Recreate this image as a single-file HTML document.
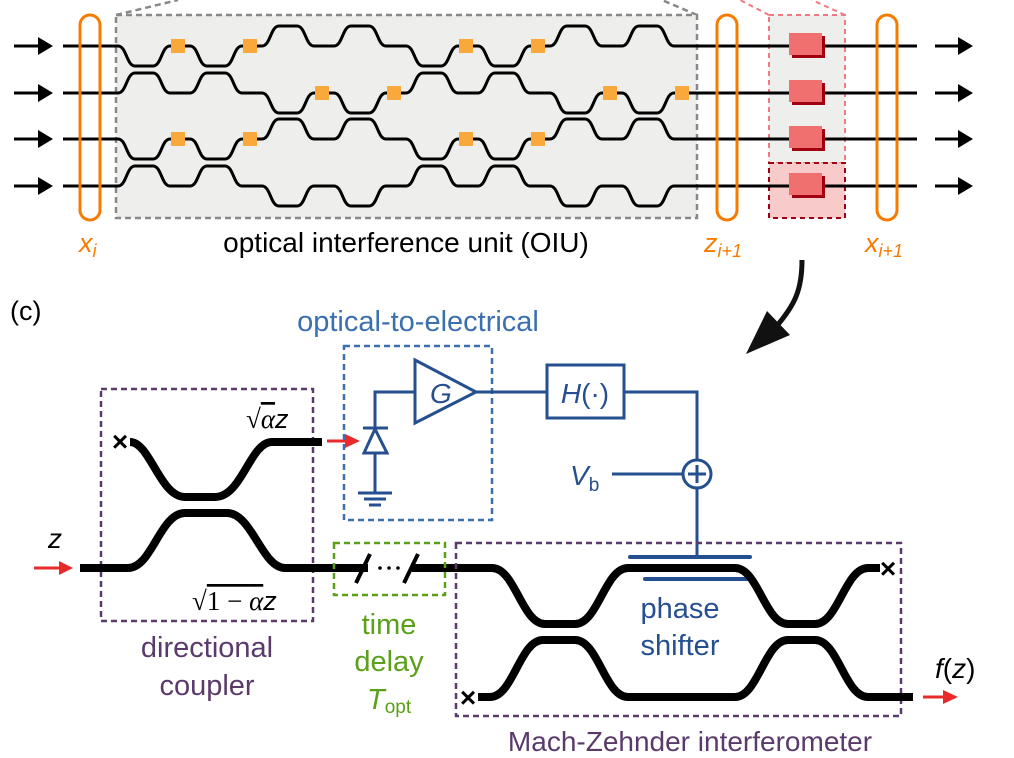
<!DOCTYPE html>
<html><head><meta charset="utf-8">
<style>
html,body{margin:0;padding:0;background:#fff;}
svg{display:block;font-family:"Liberation Sans",Arial,sans-serif;}
</style></head>
<body>
<svg id="s" width="1014" height="758" viewBox="0 0 1014 758" xmlns="http://www.w3.org/2000/svg">
<!-- OIU box -->
<line x1="116" y1="15" x2="178" y2="0" stroke="#888" stroke-width="2.5" stroke-dasharray="6,4"/>
<line x1="697" y1="15" x2="662" y2="0" stroke="#888" stroke-width="2.5" stroke-dasharray="6,4"/>
<rect x="116" y="15" width="581" height="203" fill="#eeeeec" stroke="#888" stroke-width="2.5" stroke-dasharray="6,4"/>
<!-- pink box -->
<line x1="769" y1="15" x2="740" y2="0" stroke="#f07a80" stroke-width="2" stroke-dasharray="5,4"/>
<line x1="845" y1="15" x2="812" y2="0" stroke="#f07a80" stroke-width="2" stroke-dasharray="5,4"/>
<rect x="769" y="15" width="76" height="148" fill="#eeeeec" stroke="#f07a80" stroke-width="2" stroke-dasharray="5,4"/>
<rect x="769" y="163" width="76" height="55" fill="#f9caca" stroke="#a00010" stroke-width="2" stroke-dasharray="5,4"/>
<g id="wg"></g>
<!-- orange rings -->
<rect x="80" y="15" width="20" height="205" rx="10" fill="none" stroke="#f57c00" stroke-width="3"/>
<rect x="717" y="15" width="20" height="205" rx="10" fill="none" stroke="#f57c00" stroke-width="3"/>
<rect x="877" y="15" width="20" height="205" rx="10" fill="none" stroke="#f57c00" stroke-width="3"/>
<text x="79" y="252" font-size="27" fill="#f57c00" font-style="italic">x<tspan font-size="18" dy="5">i</tspan></text>
<text x="406" y="252" font-size="28" fill="#000" text-anchor="middle">optical interference unit (OIU)</text>
<text x="704" y="252" font-size="27" fill="#f57c00" font-style="italic">z<tspan font-size="18" dy="5">i+1</tspan></text>
<text x="865" y="252" font-size="27" fill="#f57c00" font-style="italic">x<tspan font-size="18" dy="5">i+1</tspan></text>
<!-- curved arrow -->
<path d="M802,260 C802,290 795,305 775,328" fill="none" stroke="#111" stroke-width="5"/>
<path d="M746,354 L767,311 L790,335 z" fill="#111"/>
<text x="10" y="320" font-size="27" fill="#000">(c)</text>
<!-- directional coupler -->
<rect x="101" y="389" width="212" height="232" fill="none" stroke="#5a3a6a" stroke-width="2.5" stroke-dasharray="6,4"/>
<path d="M130,442 C150,442 160,497 185,497 L215,497 C242,497 250,442 272,442 L322,442" fill="none" stroke="#000" stroke-width="8"/>
<path d="M80,568 L128,568 C152,568 160,513 185,513 L227,513 C252,513 262,568 285,568 L482,568" fill="none" stroke="#000" stroke-width="8"/>
<text x="120" y="451" font-size="28" font-weight="bold" text-anchor="middle">×</text>
<line x1="34" y1="568" x2="62" y2="568" stroke="#e82a2a" stroke-width="3"/><path d="M59,561 L73,568 L59,575 z" fill="#e82a2a"/>
<text x="55" y="548" font-size="28" font-style="italic" text-anchor="middle">z</text>
<line x1="327" y1="441" x2="348" y2="441" stroke="#e82a2a" stroke-width="3"/><path d="M345,434 L360,441 L345,448 z" fill="#e82a2a"/>
<text x="246" y="428" font-size="27" font-family="Liberation Serif,serif">√<tspan text-decoration="overline" font-style="italic">α</tspan><tspan font-style="italic" font-family="Liberation Sans,sans-serif">z</tspan></text>
<text x="192" y="610" font-size="27" font-family="Liberation Serif,serif">√<tspan text-decoration="overline">1 − <tspan font-style="italic">α</tspan></tspan><tspan font-style="italic" font-family="Liberation Sans,sans-serif">z</tspan></text>
<text x="207" y="657" font-size="29" fill="#5a3a6a" text-anchor="middle">directional</text>
<text x="207" y="695" font-size="29" fill="#5a3a6a" text-anchor="middle">coupler</text>
<!-- O-E box -->
<rect x="344" y="346" width="148" height="174" fill="none" stroke="#3a6fb0" stroke-width="2.5" stroke-dasharray="6,4"/>
<text x="418" y="331" font-size="29" fill="#3a6fb0" text-anchor="middle">optical-to-electrical</text>
<g stroke="#264f8f" stroke-width="3" fill="none">
<path d="M375,493 L375,453 M375,428 L375,392 L415,392"/>
<line x1="363" y1="428" x2="388" y2="428"/>
<path d="M375,429 L364,453 L387,453 z"/>
<line x1="358" y1="493" x2="392" y2="493"/><line x1="364" y1="499" x2="386" y2="499"/><line x1="369" y1="505" x2="381" y2="505"/>
<path d="M415,360 L476,392 L415,423 z"/>
<path d="M476,392 L547,392"/>
<rect x="547" y="365" width="77" height="53"/>
<path d="M624,392 L697,392 L697,460 M697,488 L697,557"/>
<circle cx="697" cy="474" r="14"/>
<path d="M688,474 L706,474 M697,465 L697,483"/>
<line x1="612" y1="474" x2="683" y2="474"/>
<line x1="630" y1="557" x2="750" y2="557" stroke-width="4" stroke-linecap="round"/>
<line x1="645" y1="579" x2="750" y2="579" stroke-width="4" stroke-linecap="round"/>
</g>
<text x="430" y="403" font-size="28" fill="#264f8f" font-style="italic">G</text>
<text x="585" y="403" font-size="28" fill="#264f8f" text-anchor="middle"><tspan font-style="italic">H</tspan>(·)</text>
<text x="570" y="485" font-size="28" fill="#264f8f" font-style="italic">V<tspan font-size="19" font-style="normal" dy="6">b</tspan></text>
<!-- time delay -->
<rect x="334" y="543" width="111" height="52" fill="none" stroke="#5aa01a" stroke-width="2.5" stroke-dasharray="6,4"/>
<rect x="368" y="560" width="44" height="16" fill="#fff"/>
<path d="M356,583 L370,554 M404,583 L418,554" stroke="#000" stroke-width="4"/>
<circle cx="380" cy="568" r="1.8" fill="#000"/><circle cx="389" cy="568" r="1.8" fill="#000"/><circle cx="398" cy="568" r="1.8" fill="#000"/>
<text x="389" y="634" font-size="29" fill="#5aa01a" text-anchor="middle">time</text>
<text x="389" y="671" font-size="29" fill="#5aa01a" text-anchor="middle">delay</text>
<text x="367" y="709" font-size="29" fill="#5aa01a" font-style="italic">T<tspan font-size="19" font-style="normal" dy="4">opt</tspan></text>
<!-- MZI -->
<rect x="456" y="543" width="445" height="173" fill="none" stroke="#5a3a6a" stroke-width="2.5" stroke-dasharray="6,4"/>
<path d="M480,568 L492,568 C515,568 522,624 545,624 L575,624 C598,624 605,568 628,568 L735,568 C758,568 765,624 788,624 L815,624 C838,624 845,568 868,568 L880,568" fill="none" stroke="#000" stroke-width="8"/>
<path d="M478,697 L490,697 C513,697 520,640 543,640 L575,640 C598,640 605,697 628,697 L735,697 C758,697 765,640 788,640 L815,640 C838,640 845,697 868,697 L913,697" fill="none" stroke="#000" stroke-width="8"/>
<text x="888" y="578" font-size="28" font-weight="bold" text-anchor="middle">×</text>
<text x="468" y="707" font-size="28" font-weight="bold" text-anchor="middle">×</text>
<line x1="923" y1="697" x2="946" y2="697" stroke="#e82a2a" stroke-width="3"/><path d="M943,690 L958,697 L943,704 z" fill="#e82a2a"/>
<text x="935" y="678" font-size="28" font-style="italic">f<tspan font-style="normal">(</tspan>z<tspan font-style="normal">)</tspan></text>
<text x="680" y="618" font-size="29" fill="#264f8f" text-anchor="middle">phase</text>
<text x="680" y="655" font-size="29" fill="#264f8f" text-anchor="middle">shifter</text>
<text x="690" y="751" font-size="28" fill="#5a3a6a" text-anchor="middle">Mach-Zehnder interferometer</text>
</svg>
<script>
(function(){
var g=document.getElementById('wg');var h='';
var ys=[46,93,139,186];
var A=[20,20,-20,-20,20,20,-20,-20];
var sq=[[0,1,4,5],[2,3,6,7],[0,1,4,5],[]];
for(var r=0;r<4;r++){
 var y=ys[r],sg=(r%2==0)?1:-1;
 var d='M63,'+y;
 for(var k=0;k<8;k++){
  var s=118+72*k,yy=y+sg*A[k];
  d+=' L'+s+','+y+' C'+(s+8.5)+','+y+' '+(s+8.5)+','+yy+' '+(s+17)+','+yy+' L'+(s+35)+','+yy+' C'+(s+43.5)+','+yy+' '+(s+43.5)+','+y+' '+(s+52)+','+y;
 }
 d+=' L917,'+y;
 h+='<path d="'+d+'" fill="none" stroke="#000" stroke-width="3"/>';
 for(var i=0;i<sq[r].length;i++){var s2=118+72*sq[r][i]+60;h+='<rect x="'+(s2-7)+'" y="'+(y-7)+'" width="14" height="14" fill="#f9a83c"/>';}
 h+='<line x1="14" y1="'+y+'" x2="40" y2="'+y+'" stroke="#000" stroke-width="3"/><path d="M38,'+(y-9)+' L53,'+y+' L38,'+(y+9)+' z" fill="#000"/>';
 h+='<line x1="935" y1="'+y+'" x2="960" y2="'+y+'" stroke="#000" stroke-width="3"/><path d="M958,'+(y-9)+' L973,'+y+' L958,'+(y+9)+' z" fill="#000"/>';
 h+='<rect x="792" y="'+(y-10)+'" width="33" height="22" fill="#a00010"/><rect x="789" y="'+(y-13)+'" width="33" height="22" fill="#f07070"/>';
}
g.innerHTML=h;
})();
</script>
</body></html>
